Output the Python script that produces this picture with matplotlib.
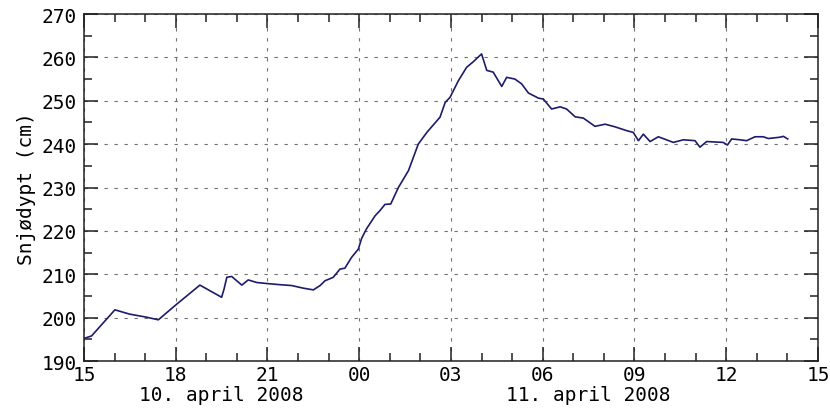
import matplotlib
matplotlib.use("Agg")
import matplotlib.pyplot as plt
import matplotlib.dates as mdates
import matplotlib.transforms as mtransforms
from matplotlib.ticker import MultipleLocator
import pandas as pd

# hours after 2008-04-10 15:00, snow depth in cm
hours = [0.0, 0.25, 1.01, 1.5, 2.05, 2.43, 3.03, 3.79, 4.5, 4.58, 4.67, 4.83,
         5.16, 5.37, 5.65, 6.08, 6.41, 6.79, 7.17, 7.5, 7.72, 7.88, 8.15,
         8.37, 8.53, 8.75, 8.97, 9.08, 9.24, 9.52, 9.68, 9.84, 10.03, 10.28,
         10.61, 10.93, 11.21, 11.64, 11.81, 11.97, 12.24, 12.51, 12.73, 13.0,
         13.17, 13.38, 13.66, 13.82, 14.09, 14.31, 14.53, 14.86, 15.02, 15.29,
         15.57, 15.78, 16.06, 16.33, 16.71, 17.04, 17.36, 17.75, 17.96, 18.13,
         18.29, 18.51, 18.78, 19.27, 19.6, 19.98, 20.14, 20.36, 20.9, 21.04,
         21.18, 21.45, 21.67, 21.94, 22.21, 22.38, 22.76, 22.87, 23.01]
depth = [195.2, 195.8, 201.8, 200.8, 200.1, 199.5, 203.1, 207.5, 204.7, 206.6,
         209.3, 209.5, 207.5, 208.7, 208.1, 207.8, 207.6, 207.4, 206.8, 206.4,
         207.4, 208.5, 209.3, 211.2, 211.4, 213.9, 215.8, 218.3, 220.5, 223.5,
         224.7, 226.1, 226.2, 230.0, 233.9, 240.0, 242.7, 246.2, 249.6, 250.8,
         254.6, 257.7, 259.0, 260.8, 257.0, 256.6, 253.3, 255.4, 255.0, 253.9,
         251.8, 250.6, 250.4, 248.1, 248.6, 248.1, 246.3, 246.0, 244.1, 244.6,
         244.0, 243.1, 242.7, 240.8, 242.3, 240.6, 241.7, 240.4, 241.0, 240.8,
         239.3, 240.6, 240.4, 239.8, 241.2, 241.0, 240.8, 241.7, 241.7, 241.3,
         241.6, 241.8, 241.2]

start = pd.Timestamp("2008-04-10 15:00")
times = [start + pd.Timedelta(hours=h) for h in hours]

day_labels = ["10. april 2008", "11. april 2008"]
day_centers = [pd.Timestamp("2008-04-10 19:30"), pd.Timestamp("2008-04-11 07:30")]

FONT = "DejaVu Sans Mono"
plt.rcParams["font.family"] = FONT
plt.rcParams["font.size"] = 14

fig = plt.figure(figsize=(8.3, 4.1), dpi=100, facecolor="white")
ax = fig.add_axes([0.1012, 0.117, 0.8843, 0.8464])

ax.plot(times, depth, color="#1c1c6a", lw=1.2)

ax.set_xlim(start, start + pd.Timedelta(hours=24))
ax.set_ylim(190, 270)

ax.xaxis.set_major_locator(mdates.HourLocator(byhour=range(0, 24, 3)))
ax.xaxis.set_minor_locator(mdates.HourLocator())
ax.xaxis.set_major_formatter(mdates.DateFormatter("%H"))
ax.yaxis.set_major_locator(MultipleLocator(10))
ax.yaxis.set_minor_locator(MultipleLocator(5))

ax.tick_params(which="both", direction="in", top=True, right=True,
               color="#202020", width=1.1)
ax.tick_params(which="major", length=10, pad=3)
ax.tick_params(which="minor", length=6)
ax.tick_params(axis="y", pad=5)

for s in ax.spines.values():
    s.set_linewidth(1.1)
    s.set_color("#202020")

ax.grid(True, which="major", color="#707070", lw=0.8, linestyle=(0, (3, 6)))

ax.set_ylabel("Snjødypt (cm)", labelpad=4)

trans = mtransforms.blended_transform_factory(ax.transData, ax.transAxes)
for d, lab in zip(day_centers, day_labels):
    ax.text(d, -0.097, lab, transform=trans, ha="center", va="center")

fig.savefig("out.png", dpi=100)
